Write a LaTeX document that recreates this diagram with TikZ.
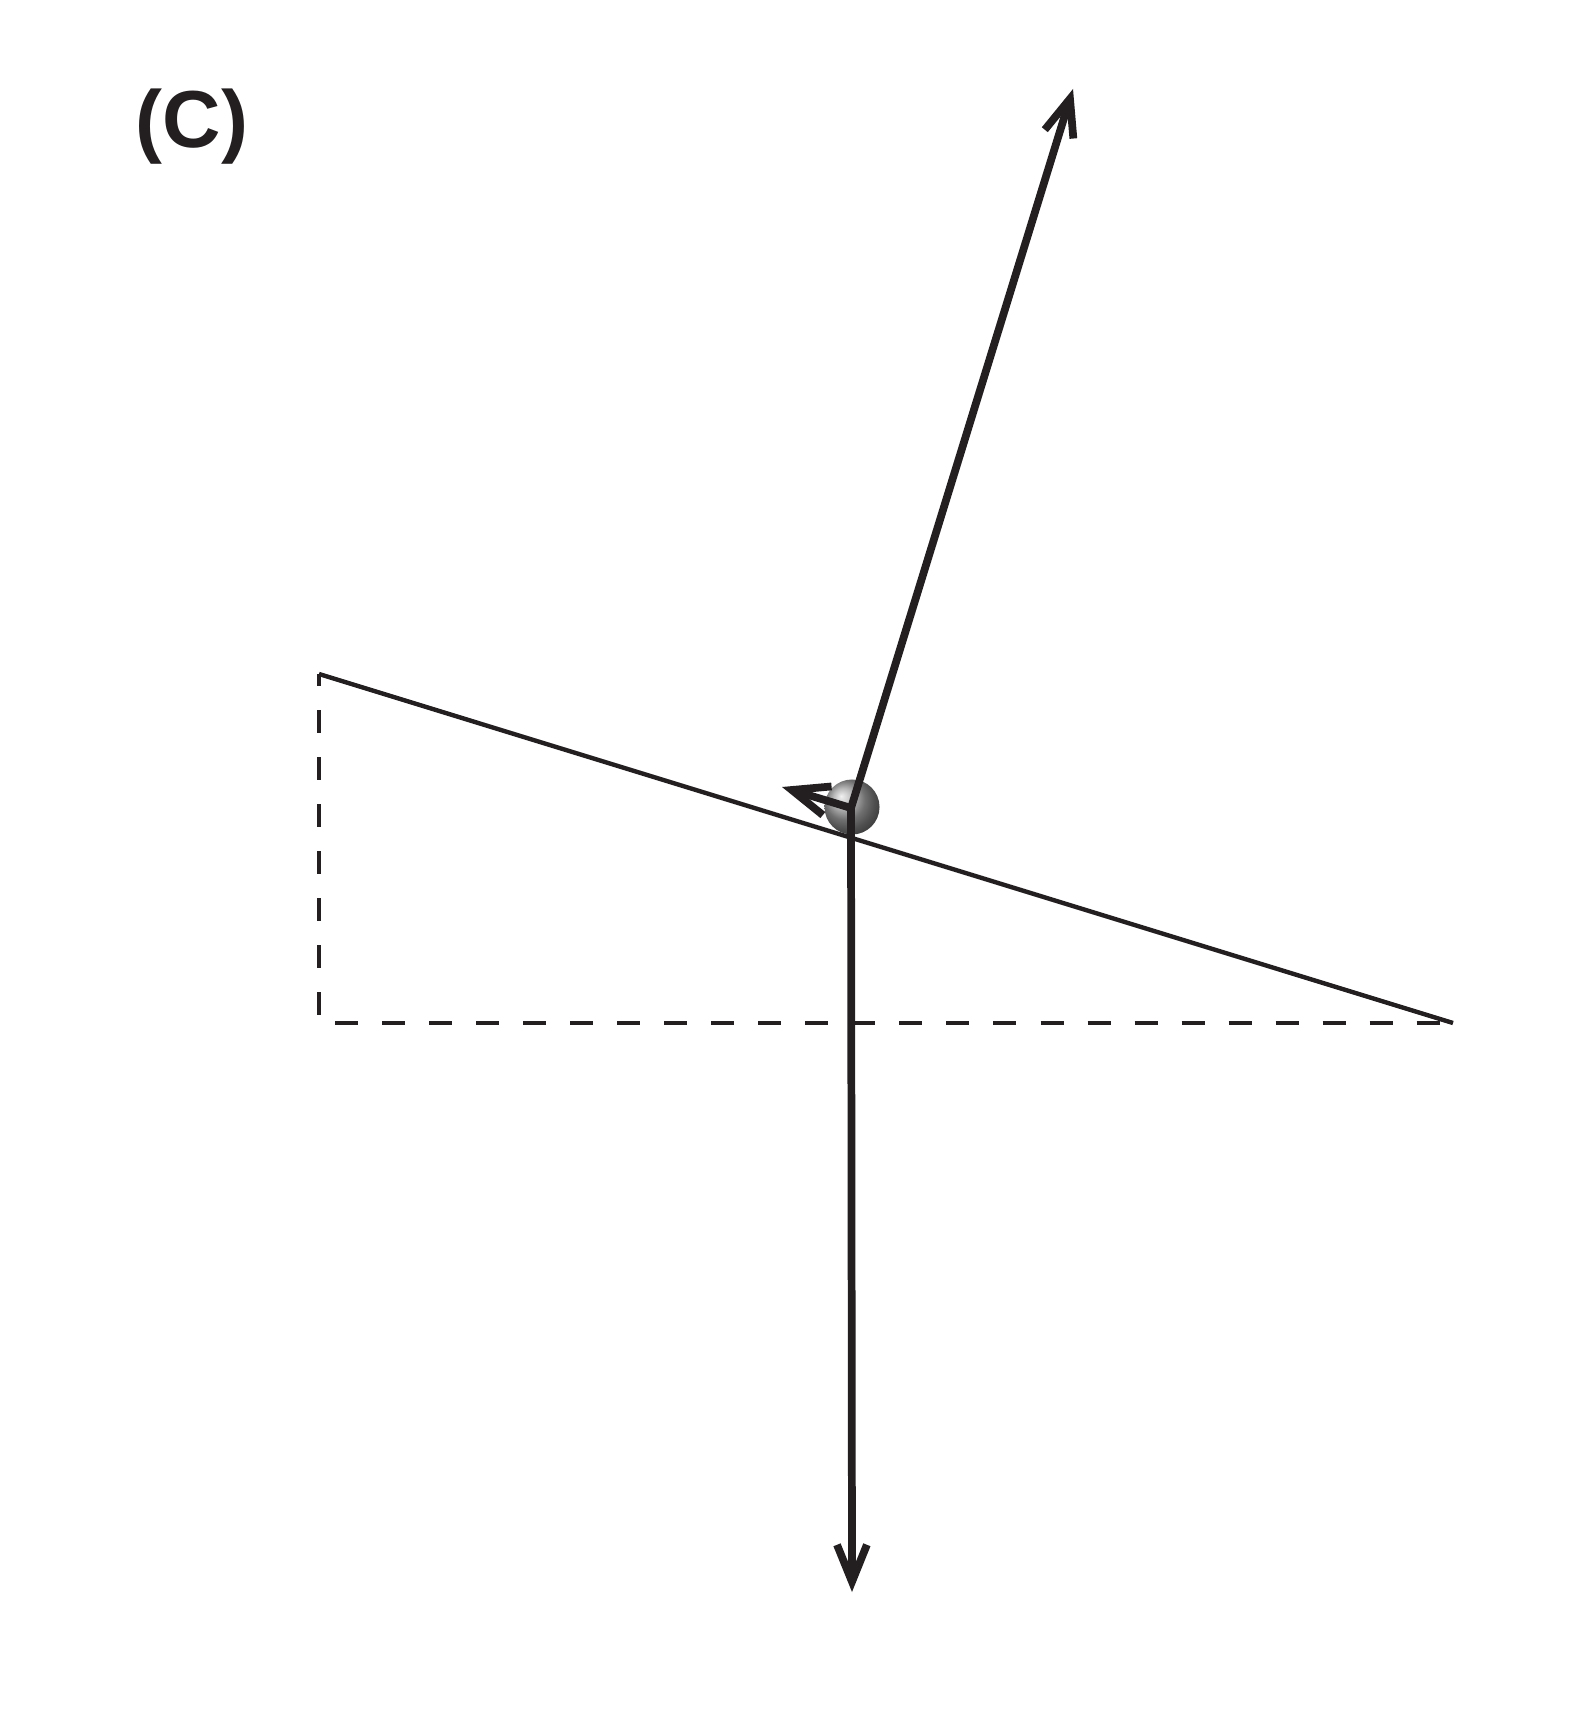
\documentclass[tikz,border=0pt]{standalone}
\usepackage{fontspec}
\setsansfont{Liberation Sans}
\usetikzlibrary{arrows.meta, positioning}
\definecolor{ink}{HTML}{231F20}
\tikzset{x = 0.01cm, y = -0.01cm,
         >= {Straight Barb[length = 10.5pt, width = 8.5pt]},
         force/.style = {->, line width = 2.2pt, draw = ink},
         slope/.style = {line width = 1.25pt, draw = ink},
         guide/.style = {line width = 0.95pt, draw = ink,
                         dash pattern = on 6.54pt off 6.83pt, dash phase = 3.1pt},
         bead/.style  = {circle, inner sep = 0pt, minimum size = 0.55cm,
                         shading = ball, ball color = gray!75},
         tag/.style   = {font = \sffamily\bfseries\fontsize{23}{28}\selectfont, text = ink}}

\begin{document}
\begin{tikzpicture}
        \useasboundingbox (0,0) rectangle (1576,1728);

        \node[tag]              (label)   at (192,127)    {(C)};

        % incline and its dashed frame
        \coordinate             (top)     at (319,674);
        \coordinate             (corner)  at (319,1023);
        \coordinate             (foot)    at (1453,1023);

        \node[bead]             (ball)    at (852,807)    {};
        \coordinate             (o)       at (851,808);

        \draw[guide]            (top) -- (corner) -- (foot);
        \draw[slope]            (top) -- (foot);

        % forces on the ball
        \coordinate             (normal)  at (1073,89);
        \coordinate             (weight)  at (852,1592);
        \coordinate             (drag)    at (782,787);

        \draw[force]            (o) -- (normal);
        \draw[force]            (o) -- (weight);
        \draw[force]            (o) -- (drag);
    \end{tikzpicture}
\end{document}
